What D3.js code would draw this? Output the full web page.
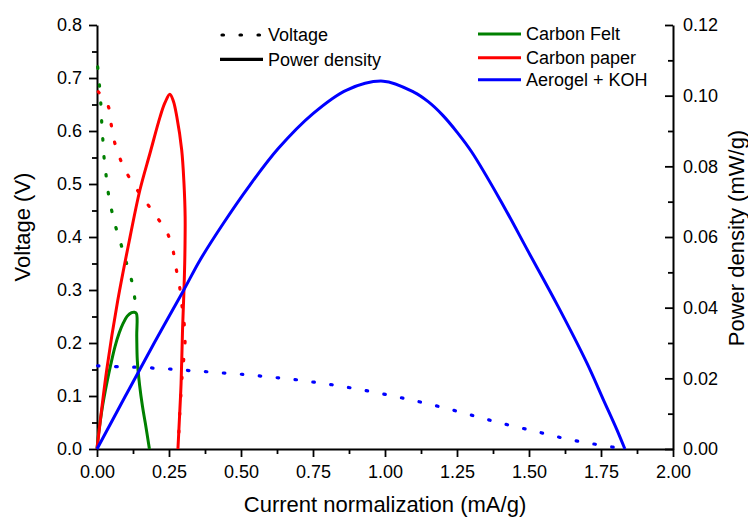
<!DOCTYPE html>
<html><head><meta charset="utf-8">
<script src="https://cdn.jsdelivr.net/npm/d3@7"></script>
<style>
body{margin:0;background:#fff}
svg{display:block;background:#fff}
text{font-family:"Liberation Sans",Arial,sans-serif;fill:#000}
</style>
</head><body>
<svg id="chart" width="748" height="518"></svg>
<script>
// ---- data ----
const currentTicks = [0, 0.25, 0.5, 0.75, 1.0, 1.25, 1.5, 1.75, 2.0];
const voltageTicks = [0, 0.1, 0.2, 0.3, 0.4, 0.5, 0.6, 0.7, 0.8];
const powerTicks = [0, 0.02, 0.04, 0.06, 0.08, 0.10, 0.12];

const seriesNames = ["Carbon Felt", "Carbon paper", "Aerogel + KOH"];
const seriesColors = ["#008000", "#ff0000", "#0000ff"];
const styleNames = ["Voltage", "Power density"];

// [current (mA/g), voltage (V)]
const feltVoltage = [[0.0024,0.721],[0.008,0.689],[0.013,0.654],[0.016,0.620],[0.020,0.586],[0.024,0.553],[0.031,0.519],[0.039,0.484],[0.051,0.450],[0.065,0.419],[0.083,0.387],[0.100,0.355],[0.118,0.323],[0.130,0.289],[0.135,0.257]];
const paperVoltage = [[0.0045,0.674],[0.039,0.647],[0.049,0.613],[0.061,0.579],[0.080,0.548],[0.101,0.523],[0.132,0.495],[0.170,0.466],[0.207,0.438],[0.242,0.410],[0.263,0.377],[0.273,0.345],[0.285,0.313],[0.293,0.279],[0.301,0.245],[0.306,0.210],[0.302,0.175],[0.296,0.141],[0.292,0.108],[0.288,0.074],[0.285,0.039],[0.281,0.004]];
const aerogelVoltage = [[0.002,0.157],[0.089,0.155],[0.153,0.154],[0.216,0.152],[0.279,0.150],[0.341,0.147],[0.404,0.145],[0.468,0.142],[0.529,0.140],[0.593,0.136],[0.655,0.133],[0.716,0.129],[0.780,0.124],[0.843,0.119],[0.904,0.113],[0.965,0.107],[1.027,0.100],[1.089,0.093],[1.150,0.085],[1.211,0.077],[1.272,0.068],[1.333,0.059],[1.393,0.050],[1.455,0.042],[1.517,0.034],[1.577,0.026],[1.638,0.018],[1.700,0.012],[1.760,0.006],[1.826,0.001]];

// [current (mA/g), power density (mW/g)]
const feltPower = [[0,0],[0.005,0.004],[0.0104,0.0073],[0.02,0.0125],[0.034,0.0186],[0.048,0.024],[0.0625,0.029],[0.077,0.0328],[0.091,0.0356],[0.105,0.0376],[0.12,0.0386],[0.13,0.0387],[0.137,0.0383],[0.138,0.032],[0.140,0.025],[0.148,0.018],[0.158,0.012],[0.168,0.0072],[0.182,0]];
const paperPower = [[0,0],[0.034,0.0225],[0.072,0.042],[0.115,0.0601],[0.149,0.0733],[0.184,0.0837],[0.219,0.0940],[0.236,0.0980],[0.253,0.1004],[0.265,0.0985],[0.277,0.0941],[0.294,0.0847],[0.302,0.0752],[0.306,0.0658],[0.305,0.0544],[0.302,0.0450],[0.297,0.0337],[0.292,0.0187],[0.286,0.0082],[0.281,0]];
const aerogelPower = [[0,0],[0.1,0.0152],[0.2,0.0302],[0.3,0.0448],[0.358,0.0535],[0.439,0.0639],[0.531,0.0747],[0.63,0.0851],[0.751,0.0950],[0.867,0.1016],[0.994,0.1041],[1.1,0.1010],[1.15,0.0983],[1.2,0.0945],[1.25,0.0897],[1.3,0.0842],[1.4,0.0705],[1.5,0.0555],[1.6,0.0405],[1.7,0.0245],[1.758,0.0140],[1.805,0.0055],[1.833,0]];

// ---- chart ----
const svg = d3.select("#chart");
const FS = 18, TFS = 22;
const x = d3.scaleLinear().domain([0, 2]).range([97, 673]);
const yV = d3.scaleLinear().domain([0, 0.8]).range([449, 25]);
const yP = d3.scaleLinear().domain([0, 0.12]).range([449, 25]);

function mids(arr){ const m=[]; for(let i=0;i<arr.length-1;i++) m.push((arr[i]+arr[i+1])/2); return m; }

function styleAxis(g){
  g.selectAll("path.domain").attr("stroke","#000").attr("stroke-width",2);
  g.selectAll(".tick line").attr("stroke","#000").attr("stroke-width",1.8);
  g.selectAll(".tick text").attr("font-size",FS).attr("font-family",'"Liberation Sans",Arial,sans-serif').attr("fill","#000");
}

// minor ticks
svg.append("g").attr("transform","translate(97,0)")
  .call(d3.axisLeft(yV).tickValues(mids(voltageTicks)).tickFormat("").tickSize(5))
  .call(g=>{g.select("path.domain").remove(); styleAxis(g);});
svg.append("g").attr("transform","translate(0,449)")
  .call(d3.axisBottom(x).tickValues(mids(currentTicks)).tickFormat("").tickSize(5))
  .call(g=>{g.select("path.domain").remove(); styleAxis(g);});
svg.append("g").attr("transform","translate(673,0)")
  .call(d3.axisRight(yP).tickValues(mids(powerTicks)).tickFormat("").tickSizeInner(-5).tickSizeOuter(0))
  .call(g=>{g.select("path.domain").remove(); styleAxis(g);});

// major axes
svg.append("g").attr("transform","translate(97,0)")
  .call(d3.axisLeft(yV).tickValues(voltageTicks).tickFormat(d3.format(".1f")).tickSize(8).tickSizeOuter(0).tickPadding(7))
  .call(styleAxis);
svg.append("g").attr("transform","translate(0,449)")
  .call(d3.axisBottom(x).tickValues(currentTicks).tickFormat(d3.format(".2f")).tickSize(8).tickSizeOuter(0).tickPadding(8))
  .call(styleAxis);
svg.append("g").attr("transform","translate(673,0)")
  .call(d3.axisRight(yP).tickValues(powerTicks).tickFormat(d3.format(".2f")).tickSizeInner(-8).tickSizeOuter(0).tickPadding(10))
  .call(styleAxis);

// axis titles
svg.append("text").attr("x",385).attr("y",512).attr("text-anchor","middle").attr("font-size",TFS).text("Current normalization (mA/g)");
svg.append("text").attr("transform","translate(29.5,227) rotate(-90)").attr("text-anchor","middle").attr("font-size",TFS).text("Voltage (V)");
svg.append("text").attr("transform","translate(744,238) rotate(-90)").attr("text-anchor","middle").attr("font-size",TFS).text("Power density (mW/g)");

// series
const lineV = d3.line().x(d=>x(d[0])).y(d=>yV(d[1])).curve(d3.curveCatmullRom.alpha(0.5));
const lineP = d3.line().x(d=>x(d[0])).y(d=>yP(d[1])).curve(d3.curveCatmullRom.alpha(0.5));
const voltages = [feltVoltage, paperVoltage, aerogelVoltage];
const powers = [feltPower, paperPower, aerogelPower];
const plot = svg.append("g");
voltages.forEach((data,i)=>{
  plot.append("path").attr("d",lineV(data)).attr("fill","none").attr("stroke",seriesColors[i])
    .attr("stroke-width",3.2).attr("stroke-linecap","round").attr("stroke-dasharray","1.5 16.5");
});
powers.forEach((data,i)=>{
  plot.append("path").attr("d",lineP(data)).attr("fill","none").attr("stroke",seriesColors[i])
    .attr("stroke-width",3).attr("stroke-linejoin","round");
});

// legend: line styles
const lg1 = svg.append("g");
[35, 59.3].forEach((yy,i)=>{
  const l = lg1.append("line").attr("x1",i===0?222:220).attr("x2",263).attr("y1",yy).attr("y2",yy)
    .attr("stroke","#000").attr("stroke-width",3.2);
  if(i===0) l.attr("stroke-linecap","round").attr("stroke-dasharray","1.5 16.5");
  lg1.append("text").attr("x",268).attr("y",yy+6.4).attr("font-size",FS).text(styleNames[i]);
});
// legend: series
const lg2 = svg.append("g");
[34, 57.7, 79.7].forEach((yy,i)=>{
  lg2.append("line").attr("x1",478).attr("x2",521).attr("y1",yy).attr("y2",yy)
    .attr("stroke",seriesColors[i]).attr("stroke-width",3);
  lg2.append("text").attr("x",526).attr("y",yy+6.4).attr("font-size",FS).text(seriesNames[i]);
});
</script>
</body></html>
